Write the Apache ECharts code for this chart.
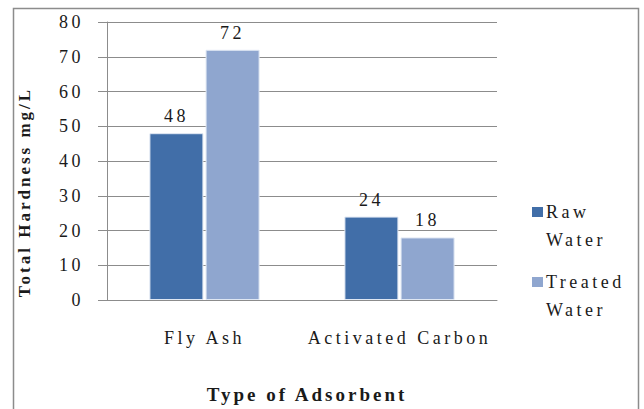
<!DOCTYPE html>
<html>
<head>
<meta charset="utf-8">
<style>
  html, body { margin: 0; padding: 0; background: #ffffff; }
  #chart { width: 644px; height: 409px; }
  /* widely tracked serif lettering */
  #chart text { letter-spacing: 3.5px; }
  #chart text[style*="bold"] { letter-spacing: 3px; }
</style>
<script src="https://cdn.jsdelivr.net/npm/echarts@6/dist/echarts.min.js"></script>
</head>
<body>
<div id="chart"></div>
<script>
const categories = ['Fly Ash', 'Activated Carbon'];
const seriesNames = ['Raw Water', 'Treated Water'];
const rawWater = [48, 24];
const treatedWater = [72, 18];
const yTicks = { min: 0, max: 80, step: 10 };

const colors = ['#416EA8', '#8FA6CF'];
const FONT = 'Liberation Serif';
const ink = '#1a1a1a';
const gridGray = '#8c8c8c';

const chart = echarts.init(document.getElementById('chart'), null, { renderer: 'svg' });

const legendRich = {
  t: { fontFamily: FONT, fontSize: 18, color: ink, lineHeight: 28, padding: [0, 0, 0, 3] },
  gap: { width: 11, height: 10 }
};
seriesNames.forEach((n, i) => {
  legendRich['sq' + i] = { width: 11, height: 10, backgroundColor: colors[i] };
});

chart.setOption({
  backgroundColor: '#ffffff',
  animation: false,
  graphic: [{
    type: 'rect',
    shape: { x: 13.5, y: 8.5, width: 625, height: 410 },
    style: { fill: 'none', stroke: gridGray, lineWidth: 1.5 },
    silent: true
  }],
  grid: { left: 107, right: 147, top: 22, bottom: 108 },
  legend: {
    orient: 'vertical',
    left: 522,
    top: 198,
    icon: 'none',
    itemWidth: 0,
    itemHeight: 10,
    itemGap: 24,
    data: seriesNames,
    formatter: name => {
      const i = seriesNames.indexOf(name);
      const words = name.split(' ');
      return '{sq' + i + '|}{t|' + words[0] + '}\n{gap|}{t|' + words.slice(1).join(' ') + '}';
    },
    textStyle: { rich: legendRich }
  },
  xAxis: {
    type: 'category',
    data: categories,
    name: 'Type of Adsorbent',
    nameLocation: 'middle',
    nameGap: 85,
    nameTextStyle: { fontFamily: FONT, fontWeight: 'bold', fontSize: 19, color: ink, padding: [0, 0, 0, 10] },
    axisLine: { show: true, lineStyle: { color: gridGray, width: 1 } },
    axisTick: { show: false },
    axisLabel: { fontFamily: FONT, fontSize: 18, color: ink, margin: 29 }
  },
  yAxis: {
    type: 'value',
    min: yTicks.min,
    max: yTicks.max,
    interval: yTicks.step,
    name: 'Total Hardness mg/L',
    nameLocation: 'middle',
    nameGap: 74,
    nameTextStyle: { fontFamily: FONT, fontWeight: 'bold', fontSize: 17, color: ink, padding: [0, 62, 0, 0] },
    axisLine: { show: true, lineStyle: { color: gridGray, width: 1 } },
    axisTick: { show: true, length: 9, lineStyle: { color: gridGray } },
    splitLine: { show: true, lineStyle: { color: gridGray, width: 1 } },
    axisLabel: { fontFamily: FONT, fontSize: 18, color: ink, margin: 23 }
  },
  series: [rawWater, treatedWater].map((vals, i) => ({
    name: seriesNames[i],
    type: 'bar',
    data: vals,
    barWidth: 54,
    barGap: '4%',
    itemStyle: { color: colors[i], borderColor: '#dfe7f3', borderWidth: 1 },
    label: {
      show: true,
      position: 'top',
      distance: 8,
      fontFamily: FONT,
      fontSize: 18,
      color: ink
    }
  }))
});
</script>
</body>
</html>
